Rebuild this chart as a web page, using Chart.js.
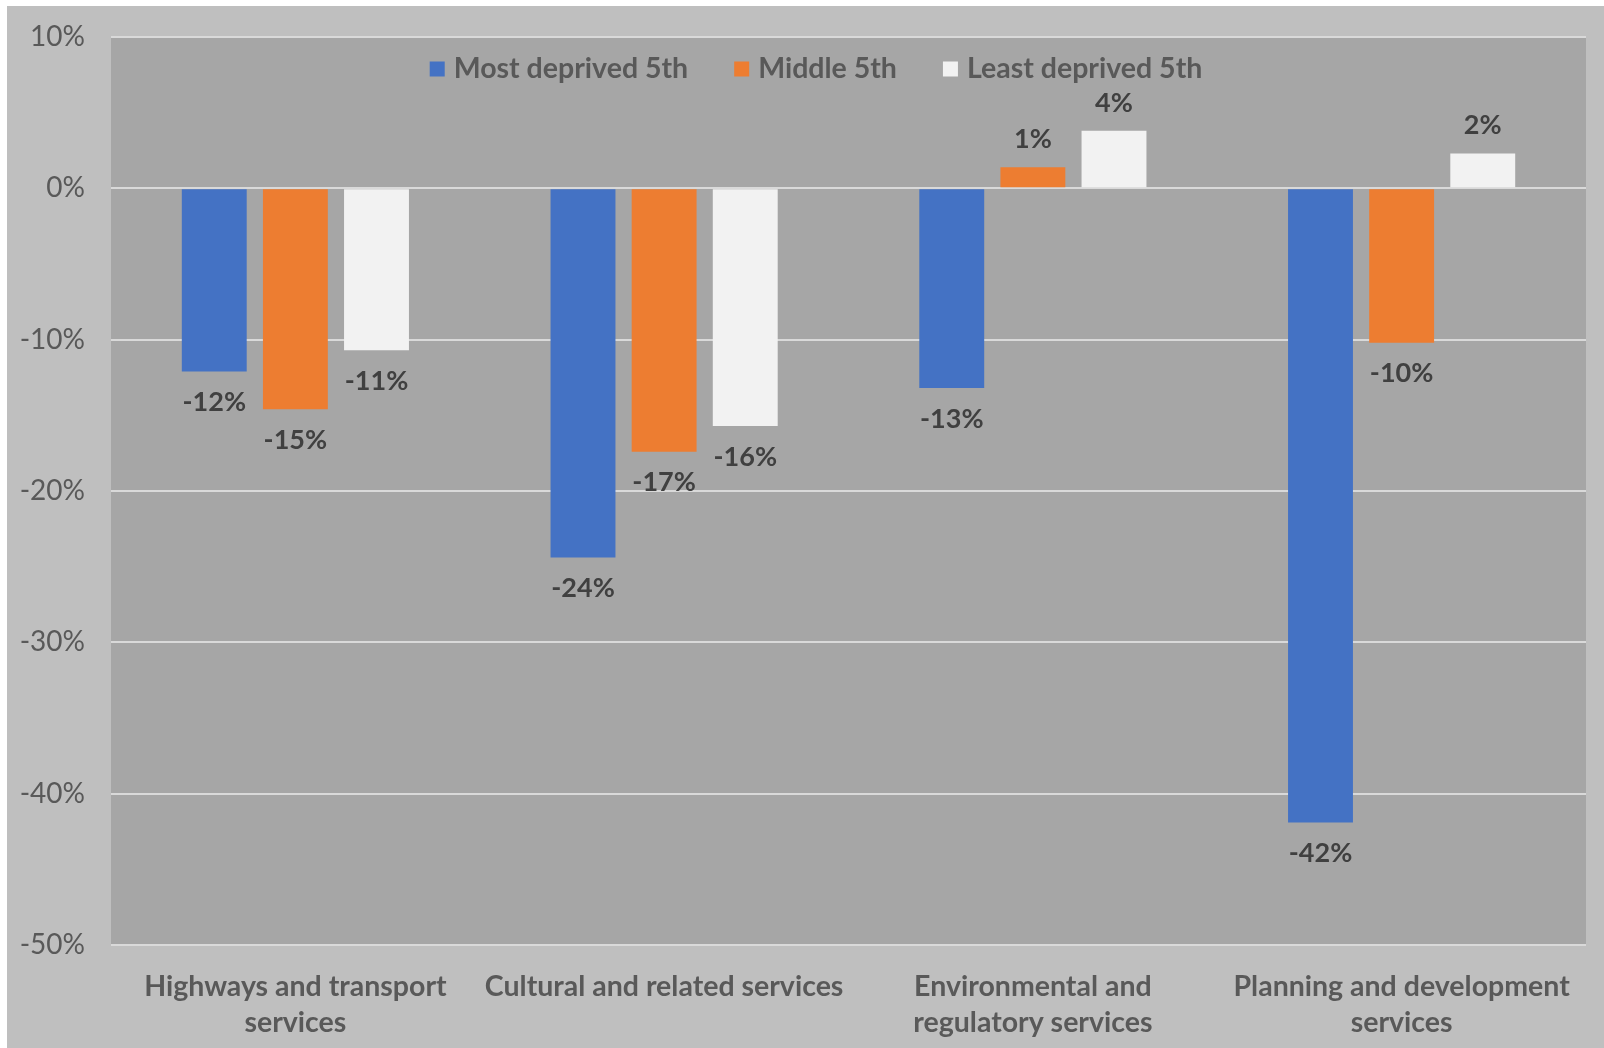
<!DOCTYPE html>
<html>
<head>
<meta charset="utf-8">
<script src="https://cdn.jsdelivr.net/npm/chart.js@4"></script>
<style>
  html, body { margin: 0; padding: 0; background: #fff; }
  #wrap { position: absolute; left: 7px; top: 6px; width: 1597px; height: 1042px; background: #bfbfbf; }
</style>
</head>
<body>
<div id="wrap"><canvas id="chart" width="1597" height="1042"></canvas></div>
<script>
// ---- data (percent change) ----
const categories = [
  ["Highways and transport", "services"],
  ["Cultural and related services"],
  ["Environmental and", "regulatory services"],
  ["Planning and development", "services"]
];
const seriesNames = ["Most deprived 5th", "Middle 5th", "Least deprived 5th"];
const mostDeprived = [-12.1, -24.4, -13.2, -41.9];
const middle = [-14.6, -17.4, 1.4, -10.2];
const leastDeprived = [-10.7, -15.7, 3.8, 2.3];
const yTicks = [10, 0, -10, -20, -30, -40, -50];

const colors = ["#4472c4", "#ed7d31", "#f2f2f2"];
const FONT = "Lato, 'Liberation Sans', sans-serif";

// gray plot background
const plotBg = {
  id: "plotBg",
  beforeDraw(chart) {
    const { ctx, chartArea: a } = chart;
    ctx.save();
    ctx.fillStyle = "#a6a6a6";
    ctx.fillRect(a.left, a.top, a.right - a.left, a.bottom - a.top);
    ctx.restore();
  }
};

// value labels at bar ends
const valueLabels = {
  id: "valueLabels",
  afterDatasetsDraw(chart) {
    const ctx = chart.ctx;
    ctx.save();
    ctx.font = "bold 27px " + FONT;
    ctx.fillStyle = "#404040";
    ctx.textAlign = "center";
    ctx.textBaseline = "middle";
    chart.data.datasets.forEach((ds, i) => {
      chart.getDatasetMeta(i).data.forEach((bar, j) => {
        const v = ds.data[j];
        const y = v < 0 ? bar.y + 31 : bar.y - 28;
        ctx.fillText(Math.round(v) + "%", bar.x, y);
      });
    });
    ctx.restore();
  }
};

// legend drawn over the top of the plot area, like the original
const overlayLegend = {
  id: "overlayLegend",
  afterDraw(chart) {
    const ctx = chart.ctx;
    ctx.save();
    ctx.font = "bold 28.5px " + FONT;
    ctx.textBaseline = "middle";
    const box = 15, gapText = 9, gapItem = 46;
    const items = chart.data.datasets.map(ds => ({ text: ds.label, color: ds.backgroundColor, w: ctx.measureText(ds.label).width }));
    const total = items.reduce((s, it) => s + box + gapText + it.w, 0) + gapItem * (items.length - 1);
    let x = 809 - total / 2;
    const y = 63;
    items.forEach(it => {
      ctx.fillStyle = it.color;
      ctx.fillRect(x, y - box / 2, box, box);
      x += box + gapText;
      ctx.fillStyle = "#595959";
      ctx.fillText(it.text, x, y);
      x += it.w + gapItem;
    });
    ctx.restore();
  }
};

function draw() {
  new Chart(document.getElementById("chart"), {
    type: "bar",
    data: {
      labels: categories,
      datasets: [
        { label: seriesNames[0], data: mostDeprived, backgroundColor: colors[0] },
        { label: seriesNames[1], data: middle, backgroundColor: colors[1] },
        { label: seriesNames[2], data: leastDeprived, backgroundColor: colors[2] }
      ]
    },
    options: {
      responsive: false,
      animation: false,
      layout: { padding: { top: 31, right: 18, left: 0, bottom: 0 } },
      datasets: { bar: { categoryPercentage: 0.66, barPercentage: 0.8, borderWidth: 0 } },
      plugins: { legend: { display: false }, tooltip: { enabled: false } },
      scales: {
        x: {
          grid: { display: false, drawTicks: false },
          border: { display: false },
          ticks: {
            color: "#595959",
            font: { family: FONT, size: 28.5, weight: "bold", lineHeight: 1.27 },
            padding: 24,
            maxRotation: 0,
            minRotation: 0,
            autoSkip: false
          },
          afterFit(scale) {
            scale.height = 103;
            scale.paddingLeft = 0;
            scale.paddingRight = 0;
          }
        },
        y: {
          min: -50,
          max: 10,
          afterBuildTicks(scale) { scale.ticks = yTicks.map(v => ({ value: v })); },
          grid: { color: "#d9d9d9", lineWidth: 2, drawTicks: false },
          border: { display: false },
          ticks: {
            color: "#595959",
            font: { family: FONT, size: 28 },
            padding: 26,
            callback: v => v + "%"
          },
          afterFit(scale) {
            scale.width = 104;
            scale.paddingTop = 0;
            scale.paddingBottom = 0;
          }
        }
      }
    },
    plugins: [plotBg, valueLabels, overlayLegend]
  });
}

Promise.all([
  document.fonts.load("28px Lato"),
  document.fonts.load("bold 28px Lato")
]).then(draw, draw);
</script>
</body>
</html>
